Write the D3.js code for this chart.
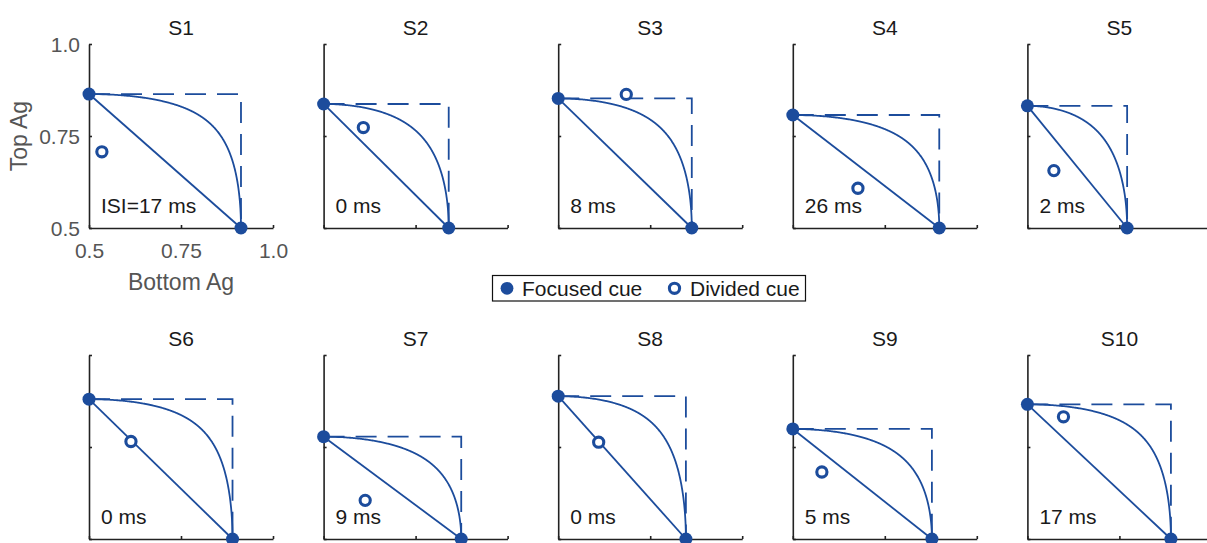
<!DOCTYPE html>
<html>
<head>
<meta charset="utf-8">
<script src="https://cdn.jsdelivr.net/npm/d3@7"></script>
<style>
  html, body { margin: 0; padding: 0; background: #fff; }
  svg { display: block; font-family: "Liberation Sans", Arial, Helvetica, sans-serif; }
</style>
</head>
<body>
<svg id="chart" width="1207" height="543"></svg>
<script>
// Per-observer accuracy (proportion correct) for the top and bottom targets
const subjects      = ["S1", "S2", "S3", "S4", "S5", "S6", "S7", "S8", "S9", "S10"];
const focusedTop    = [0.864, 0.837, 0.852, 0.807, 0.832, 0.880, 0.778, 0.888, 0.799, 0.866];
const focusedBottom = [0.913, 0.840, 0.863, 0.898, 0.771, 0.890, 0.874, 0.847, 0.878, 0.890];
const dividedTop    = [0.707, 0.773, 0.863, 0.608, 0.656, 0.765, 0.605, 0.763, 0.682, 0.832];
const dividedBottom = [0.535, 0.608, 0.685, 0.677, 0.572, 0.614, 0.613, 0.610, 0.579, 0.598];
const isiLabels     = ["ISI=17 ms", "0 ms", "8 ms", "26 ms", "2 ms", "0 ms", "9 ms", "0 ms", "5 ms", "17 ms"];
const tickValues    = [0.5, 0.75, 1.0];
const tickLabels    = ["0.5", "0.75", "1.0"];
const legendLabels  = ["Focused cue", "Divided cue"];

const BLUE = "#1c4c9c";
const AXIS = "#222222";
const GREY = "#555555";

const svg = d3.select("#chart");

// Layout of the 2 x 5 grid of panels
const panelSize = 184;
const colX = i => 89 + i * 234.6;
const rowY = r => (r === 0 ? 44 : 355);

// Standard normal CDF and its inverse for the fixed-capacity (sample-size) model
function erf(x) {
  const s = Math.sign(x); x = Math.abs(x);
  const t = 1 / (1 + 0.3275911 * x);
  const y = 1 - (((((1.061405429 * t - 1.453152027) * t) + 1.421413741) * t - 0.284496736) * t + 0.254829592) * t * Math.exp(-x * x);
  return s * y;
}
const Phi = z => 0.5 * (1 + erf(z / Math.SQRT2));
function PhiInv(p) {
  let lo = -8, hi = 8;
  for (let k = 0; k < 80; k++) {
    const mid = (lo + hi) / 2;
    if (Phi(mid) < p) lo = mid; else hi = mid;
  }
  return (lo + hi) / 2;
}

subjects.forEach((name, i) => {
  const row = Math.floor(i / 5), col = i % 5;
  const x0 = colX(col), y0 = rowY(row);
  const x = d3.scaleLinear().domain([0.5, 1.0]).range([x0, x0 + panelSize]);
  const y = d3.scaleLinear().domain([0.5, 1.0]).range([y0 + panelSize, y0]);
  const g = svg.append("g");

  // Axes with inward ticks
  const xAxis = d3.axisBottom(x).tickValues(tickValues).tickSizeInner(-3).tickSizeOuter(0)
    .tickFormat((d, k) => (i === 0 ? tickLabels[k] : ""));
  const yAxis = d3.axisLeft(y).tickValues(tickValues).tickSizeInner(-3).tickSizeOuter(0)
    .tickFormat((d, k) => (i === 0 ? tickLabels[k] : ""));

  const gx = g.append("g").attr("transform", `translate(0,${y(0.5)})`).call(xAxis);
  const gy = g.append("g").attr("transform", `translate(${x(0.5)},0)`).call(yAxis);
  [gx, gy].forEach(a => {
    a.select(".domain").attr("stroke", AXIS).attr("stroke-width", 1.6);
    a.selectAll(".tick line").attr("stroke", AXIS).attr("stroke-width", 1.6);
    a.selectAll(".tick text").attr("fill", GREY).attr("font-size", 21)
      .attr("font-family", "Liberation Sans, Arial, sans-serif");
  });
  gx.selectAll(".tick text").attr("dy", null).attr("y", 30);
  gy.selectAll(".tick text").attr("x", -9).attr("dy", "0.35em");

  // Title
  g.append("text").attr("x", x(0.75)).attr("y", y0 - 9)
    .attr("text-anchor", "middle").attr("font-size", 21).attr("fill", "#1a1a1a").text(name);

  const ft = focusedTop[i], fb = focusedBottom[i];

  // Unlimited-capacity bound (dashed box)
  g.append("path")
    .attr("d", d3.line()([[x(0.5), y(ft)], [x(fb), y(ft)], [x(fb), y(0.5)]]))
    .attr("fill", "none").attr("stroke", BLUE).attr("stroke-width", 1.8)
    .attr("stroke-dasharray", "21,11");

  // All-or-none serial prediction (straight line)
  g.append("path")
    .attr("d", d3.line()([[x(0.5), y(ft)], [x(fb), y(0.5)]]))
    .attr("fill", "none").attr("stroke", BLUE).attr("stroke-width", 1.8);

  // Fixed-capacity parallel prediction: d' squared shared between the two locations
  const zt = PhiInv(ft), zb = PhiInv(fb);
  const fracs = d3.range(0, 1.0001, 0.0025);
  const curve = fracs.map(f => [x(Phi(Math.sqrt(1 - f) * zb)), y(Phi(Math.sqrt(f) * zt))]);
  g.append("path").attr("d", d3.line()(curve))
    .attr("fill", "none").attr("stroke", BLUE).attr("stroke-width", 1.8);

  // Focused-cue endpoints
  g.selectAll("circle.focused").data([[0.5, ft], [fb, 0.5]]).join("circle")
    .attr("class", "focused").attr("cx", d => x(d[0])).attr("cy", d => y(d[1]))
    .attr("r", 6.5).attr("fill", BLUE);

  // Divided-cue performance
  g.append("circle").attr("cx", x(dividedBottom[i])).attr("cy", y(dividedTop[i]))
    .attr("r", 5.1).attr("fill", "#fff").attr("stroke", BLUE).attr("stroke-width", 3.1);

  // ISI annotation
  g.append("text").attr("x", x0 + 12).attr("y", y(0.5) - 15)
    .attr("font-size", 21).attr("fill", "#1a1a1a").text(isiLabels[i]);

  if (i === 0) {
    g.append("text").attr("x", x(0.75)).attr("y", y(0.5) + 62)
      .attr("text-anchor", "middle").attr("font-size", 23).attr("fill", GREY).text("Bottom Ag");
    g.append("text").attr("transform", `translate(${x0 - 62},${y(0.75)}) rotate(-90)`)
      .attr("text-anchor", "middle").attr("font-size", 23).attr("fill", GREY).text("Top Ag");
  }
});

// Legend
const lg = svg.append("g");
lg.append("rect").attr("x", 492.5).attr("y", 275.5).attr("width", 313).attr("height", 25.5)
  .attr("fill", "#fff").attr("stroke", "#111").attr("stroke-width", 1.2);
lg.append("circle").attr("cx", 507).attr("cy", 288.3).attr("r", 6.4).attr("fill", BLUE);
lg.append("text").attr("x", 522).attr("y", 296).attr("font-size", 21).attr("fill", "#1a1a1a").text(legendLabels[0]);
lg.append("circle").attr("cx", 674.5).attr("cy", 288.3).attr("r", 5.1)
  .attr("fill", "#fff").attr("stroke", BLUE).attr("stroke-width", 3.1);
lg.append("text").attr("x", 690).attr("y", 296).attr("font-size", 21).attr("fill", "#1a1a1a").text(legendLabels[1]);
</script>
</body>
</html>
